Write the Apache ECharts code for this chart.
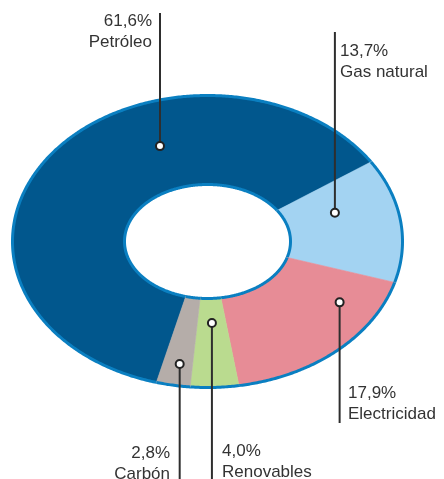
<!DOCTYPE html>
<html>
<head>
<meta charset="utf-8">
<script src="https://cdn.jsdelivr.net/npm/echarts@6/dist/echarts.min.js"></script>
<style>
  html, body { margin: 0; padding: 0; background: #fff; }
  #main { width: 444px; height: 479px; }
</style>
</head>
<body>
<div id="main"></div>
<script>
// datos
const categories = ['Petróleo', 'Gas natural', 'Electricidad', 'Renovables', 'Carbón'];
const shares = [61.6, 13.7, 17.9, 4.0, 2.8];
const colors = ['#01578d', '#a3d3f2', '#e78c96', '#badb8f', '#b5ada9'];

// posicion del marcador dentro del sector: [fraccion angular, fraccion radial]
const markerAt = [[0.653, 0.5], [0.32, 0.45], [0.244, 0.65], [0.49, 0.276], [0.44, 0.755]];
const lineEnd = [13, 32, 423, 479, 479];
const labelPos = [[152, 11, 'right'], [340, 41, 'left'], [348, 383, 'left'], [222, 441, 'left'], [170, 443, 'right']];

const cx = 207.5, cy = 241.5;
const outer = { x: 195, y: 146 };
const inner = { x: 83, y: 57 };
const startAngle = 254.8;
const total = shares.reduce((a, b) => a + b, 0);

function pt (deg, f) {
  const r = deg * Math.PI / 180;
  const rx = inner.x + f * (outer.x - inner.x);
  const ry = inner.y + f * (outer.y - inner.y);
  return [cx + rx * Math.cos(r), cy - ry * Math.sin(r)];
}

function arc (a0, a1, f) {
  const n = Math.max(4, Math.ceil(Math.abs(a1 - a0) * 2));
  const pts = [];
  for (let k = 0; k <= n; k++) pts.push(pt(a0 + (a1 - a0) * k / n, f));
  return pts;
}

function fmt (v) {
  return v.toFixed(1).replace('.', ',') + '%';
}

function renderItem (params, api) {
  const i = params.dataIndex;
  const v = api.value(0);
  let before = 0;
  for (let k = 0; k < i; k++) before += shares[k];
  const a0 = startAngle - before / total * 360;
  const a1 = a0 - v / total * 360;
  const outerPts = arc(a0, a1, 1);
  const innerPts = arc(a0, a1, 0);
  const poly = outerPts.concat(innerPts.slice().reverse());
  const m = markerAt[i];
  const mp = pt(a0 + (a1 - a0) * m[0], m[1]);
  const lp = labelPos[i];
  return {
    type: 'group',
    children: [
      { type: 'polygon', shape: { points: poly }, style: { fill: colors[i], stroke: colors[i], lineWidth: 0.6 } },
      { type: 'polyline', shape: { points: outerPts }, style: { fill: null, stroke: '#0a7fc1', lineWidth: 3 } },
      { type: 'polyline', shape: { points: innerPts }, style: { fill: null, stroke: '#0a7fc1', lineWidth: 3 } },
      { type: 'line', shape: { x1: mp[0], y1: mp[1], x2: mp[0], y2: lineEnd[i] }, style: { stroke: '#2e2e2e', lineWidth: 2 } },
      { type: 'circle', shape: { cx: mp[0], cy: mp[1], r: 4 }, style: { fill: '#fff', stroke: '#222', lineWidth: 2 } },
      {
        type: 'text',
        style: {
          text: fmt(v) + '\n' + categories[i],
          x: lp[0], y: lp[1],
          align: lp[2], verticalAlign: 'top',
          fill: '#333',
          font: '17px "Liberation Sans", Arial, sans-serif',
          lineHeight: 21
        }
      }
    ]
  };
}

const chart = echarts.init(document.getElementById('main'));
chart.setOption({
  animation: false,
  series: [{
    type: 'custom',
    coordinateSystem: 'none',
    silent: true,
    renderItem: renderItem,
    data: shares.map((v, i) => ({ name: categories[i], value: v }))
  }]
});
</script>
</body>
</html>
